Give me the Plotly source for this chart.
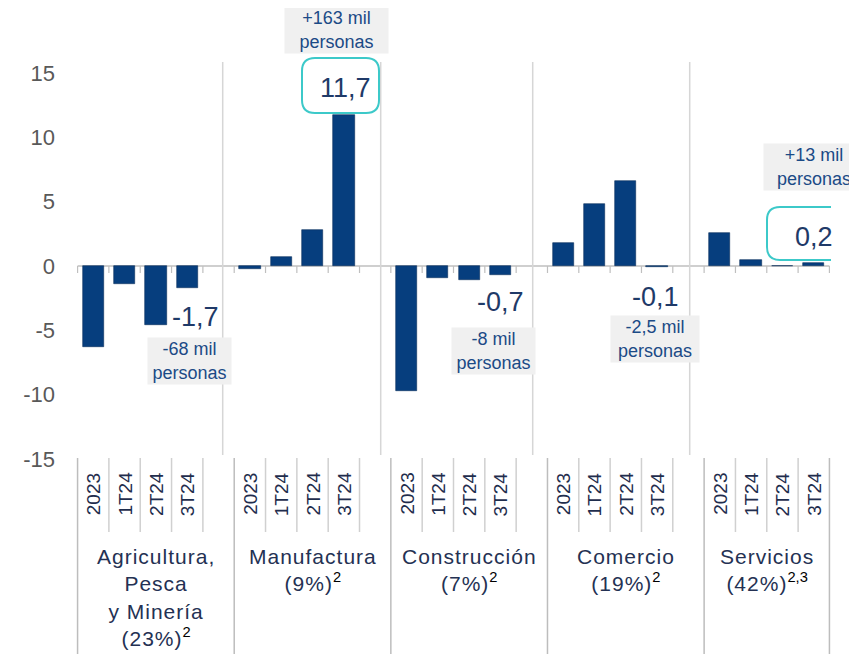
import plotly.graph_objects as go

# ---------------- data ----------------
sectors = ["Agricultura,<br>Pesca<br>y Minería<br>(23%)", "Manufactura<br>(9%)",
           "Construcción<br>(7%)", "Comercio<br>(19%)", "Servicios<br>(42%)"]
sector_notes = ["2", "2", "2", "2", "2,3"]
periods = ["2023", "1T24", "2T24", "3T24"]

agricultura = [-6.3, -1.4, -4.6, -1.7]
manufactura = [-0.2, 0.7, 2.8, 11.7]
construccion = [-9.7, -0.9, -1.1, -0.7]
comercio = [1.8, 4.8, 6.6, -0.1]
servicios = [2.6, 0.5, 0.0, 0.2]
series = [agricultura, manufactura, construccion, comercio, servicios]

people_text = ["-68 mil<br>personas", "+163 mil<br>personas", "-8 mil<br>personas",
               "-2,5 mil<br>personas", "+13 mil<br>personas"]
highlight = [False, True, False, False, True]

y_ticks = [-15, -10, -5, 0, 5, 10, 15]

# ---------------- layout geometry ----------------
# the page body adds an 8px offset; geometry below is in window pixels
OX, OY = 8, 8
W, H = 849, 646
ML, MR = 68, 26
X_RANGE = [-0.55, 23.55]
Y_RANGE = [-30.15, 20.05]
px_per_x = (W - ML - MR) / (X_RANGE[1] - X_RANGE[0])
px_per_y = H / (Y_RANGE[1] - Y_RANGE[0])


def dx(p):
    return (p - OX - ML) / px_per_x + X_RANGE[0]


def dy(p):
    return Y_RANGE[1] - (p - OY) / px_per_y


BAR_COLOR = "#063e7e"
NAVY = "#1f2d4d"
BLUE_TXT = "#1b4a86"
VAL_TXT = "#1f3a68"
TEAL = "#3cc9c9"

# callout layout (window pixel centers): value text, value box (or None), people box, width
callout_pos = [
    dict(val=(195, 317), box=None, ppl=(189.5, 361), pw=83),
    dict(val=(345, 88), box=(340.5, 85.5, 77, 55), ppl=(336.5, 29.5), pw=103),
    dict(val=(500, 302), box=None, ppl=(493.5, 351), pw=83),
    dict(val=(655, 297), box=None, ppl=(655, 339), pw=88),
    dict(val=(814, 237), box=(806, 233.5, 78, 53), ppl=(814, 167), pw=100),
]

xs, ys = [], []
for g, vals in enumerate(series):
    for i, v in enumerate(vals):
        xs.append(5 * g + i)
        ys.append(v)

fig = go.Figure()
fig.add_trace(go.Bar(x=xs, y=ys, width=0.68, marker=dict(color=BAR_COLOR,
                     line=dict(color="#0a2f5c", width=0.6)),
                     hoverinfo="skip", showlegend=False))

shapes = []
annotations = []

# zero line with ticks
shapes.append(dict(type="line", xref="x", yref="y", x0=-0.5, x1=23.5, y0=0, y1=0,
                   line=dict(color="#bfbfbf", width=1.5), layer="below"))
for k in range(25):
    shapes.append(dict(type="line", xref="x", yref="y", x0=k - 0.5, x1=k - 0.5,
                       y0=0, y1=dy(273), line=dict(color="#bfbfbf", width=1.2)))

# group separators inside plot
for sx in [222.7, 380.7, 532.7, 689.7]:
    shapes.append(dict(type="line", xref="x", yref="y", x0=dx(sx), x1=dx(sx),
                       y0=dy(455), y1=dy(62), line=dict(color="#d6d6d6", width=1.5),
                       layer="below"))

# category lines under the axis
long_b = {0, 5, 10, 15, 20, 24}
for k in range(25):
    is_long = k in long_b
    shapes.append(dict(type="line", xref="x", yref="y", x0=k - 0.5, x1=k - 0.5,
                       y0=dy(458), y1=dy(660 if is_long else 532),
                       line=dict(color="#bdbdbd" if is_long else "#d0d0d0", width=1.5)))

# period labels
for g in range(len(series)):
    for i, p in enumerate(periods):
        annotations.append(dict(x=5 * g + i, y=dy(494), xref="x", yref="y", text=p,
                                textangle=-90, showarrow=False,
                                font=dict(family="Liberation Sans, Arial", size=19, color=NAVY)))

# sector labels
for g, (s, n) in enumerate(zip(sectors, sector_notes)):
    start = 5 * g - 0.5
    end = min(5 * g + 4.5, 23.5)
    txt = "<span style='letter-spacing:1px'>" + s + "</span>" + \
          "<span style='color:#000000'><sup>" + n + "</sup></span>"
    annotations.append(dict(x=(start + end) / 2, y=dy(543), xref="x", yref="y", text=txt,
                            yanchor="top", xanchor="center", align="center", showarrow=False,
                            font=dict(family="Liberation Sans, Arial", size=21, color="#243153")))

# callouts
for g, vals in enumerate(series):
    pos = callout_pos[g]
    v = vals[-1]
    vtxt = ("%.1f" % v).replace(".", ",")
    annotations.append(dict(x=dx(pos["val"][0]), y=dy(pos["val"][1]), xref="x", yref="y",
                            text=vtxt, showarrow=False,
                            font=dict(family="Liberation Sans, Arial", size=27, color=VAL_TXT)))
    if highlight[g] and pos["box"]:
        cx, cy, bw, bh = pos["box"]
        w, h, r = bw / 2, bh / 2, 13
        path = (f"M {-w + r},{-h} L {w - r},{-h} Q {w},{-h} {w},{-h + r} "
                f"L {w},{h - r} Q {w},{h} {w - r},{h} L {-w + r},{h} "
                f"Q {-w},{h} {-w},{h - r} L {-w},{-h + r} Q {-w},{-h} {-w + r},{-h} Z")
        shapes.append(dict(type="path", xref="x", yref="y", xsizemode="pixel",
                           ysizemode="pixel", xanchor=dx(cx), yanchor=dy(cy), path=path,
                           line=dict(color=TEAL, width=2), fillcolor="rgba(0,0,0,0)"))
    annotations.append(dict(x=dx(pos["ppl"][0]), y=dy(pos["ppl"][1]), xref="x", yref="y",
                            text=people_text[g], showarrow=False, bgcolor="#f0f0f0",
                            width=pos["pw"], height=46, borderpad=0, align="center",
                            font=dict(family="Liberation Sans, Arial", size=18, color=BLUE_TXT)))

fig.update_layout(
    width=W, height=H,
    margin=dict(l=ML, r=MR, t=0, b=0, pad=0, autoexpand=False),
    paper_bgcolor="white", plot_bgcolor="white",
    shapes=shapes, annotations=annotations,
    bargap=0,
    xaxis=dict(range=X_RANGE, visible=False, fixedrange=True),
    yaxis=dict(range=Y_RANGE, tickvals=y_ticks, ticktext=[str(t) for t in y_ticks],
               showgrid=False, zeroline=False, showline=False, ticks="",
               ticklabelstandoff=20,
               tickfont=dict(family="Liberation Sans, Arial", size=22, color="#595959"),
               fixedrange=True),
    font=dict(family="Liberation Sans, Arial"),
)

fig.write_html("out.html")
